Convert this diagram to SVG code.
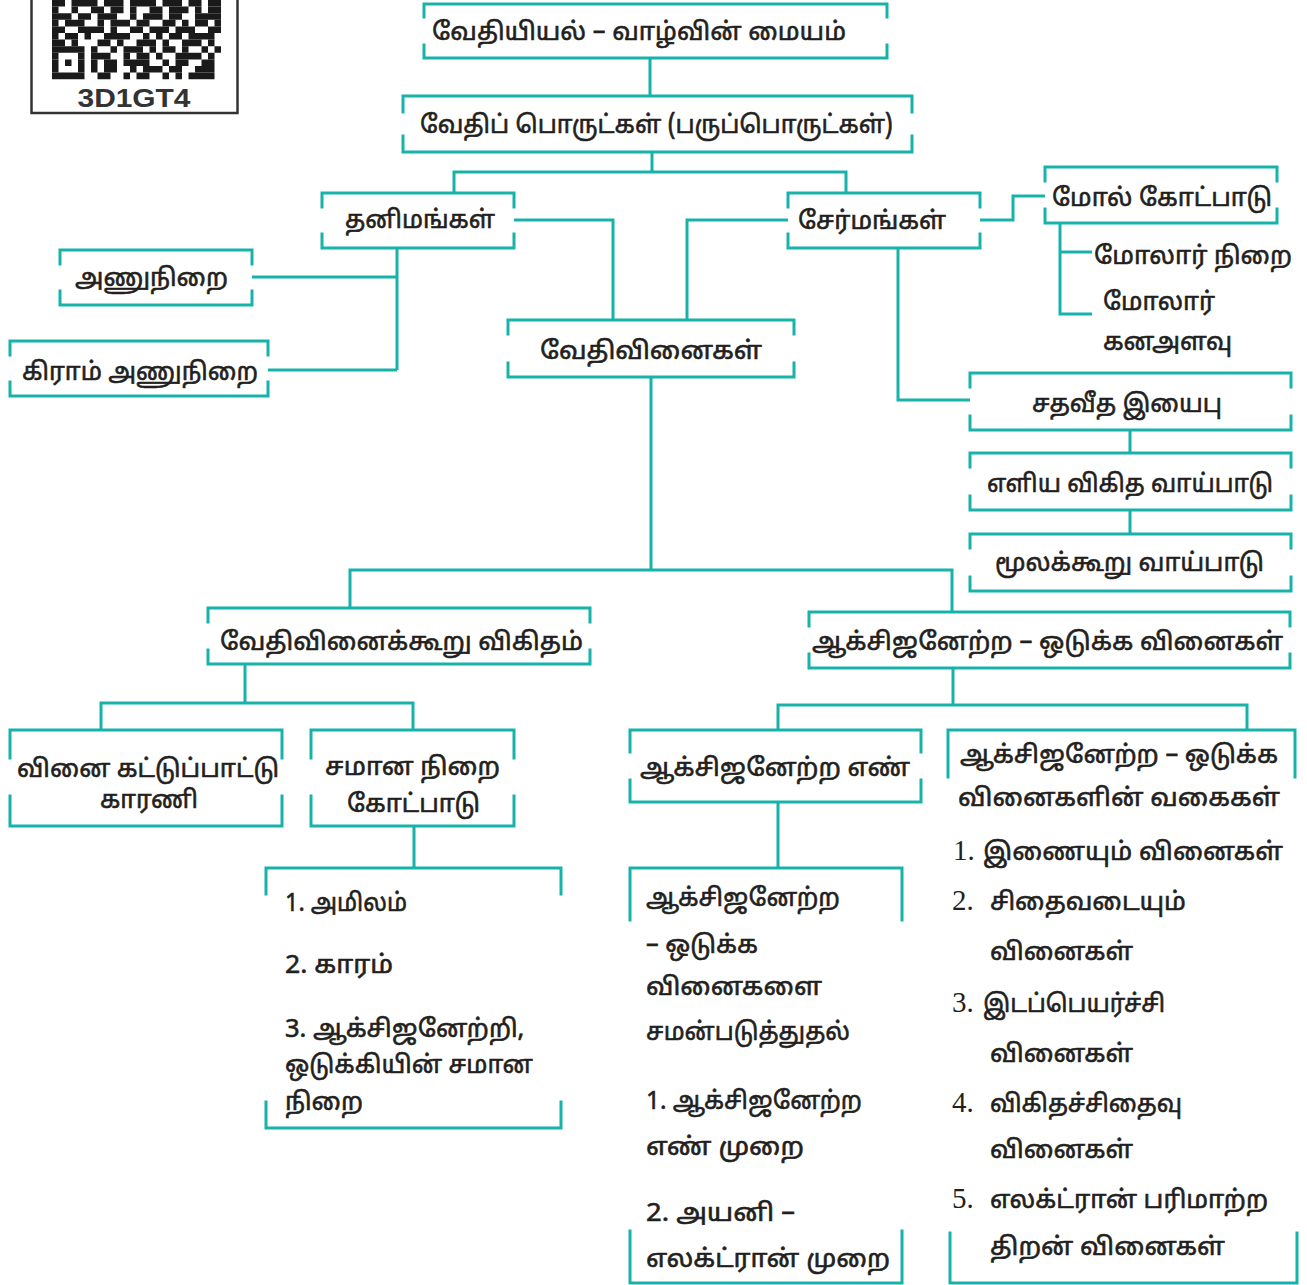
<svg xmlns="http://www.w3.org/2000/svg" width="1307" height="1285" viewBox="0 0 1307 1285">
<style>
.bx{fill:none;stroke:#17b3aa;stroke-width:3;stroke-linecap:square}
.cn{fill:none;stroke:#17b3aa;stroke-width:3}
.t{font-family:"Noto Sans Tamil","Lohit Tamil","Noto Sans",sans-serif;font-size:25px;fill:#231f20;stroke:#231f20;stroke-width:0.6}
.n{font-family:"Liberation Serif",serif;font-size:29px;fill:#231f20}
.qr line{stroke:#1a1a1a;stroke-width:1}
</style>
<rect width="1307" height="1285" fill="#fff"/>
<g id="qrcode">
<rect x="31.5" y="-3" width="206" height="116" fill="#fff" stroke="#333" stroke-width="2.5"/>
<g class="qr" transform="translate(52,0) scale(6.5,6.6)">
<line x1="0" x2="26" y1="0.5" y2="0.5" stroke-dasharray="2 1 4 1 3 1 4 1 3 1 2 1 2 0"/>
<line x1="0" x2="26" y1="1.5" y2="1.5" stroke-dasharray="1 2 1 2 2 1 2 1 1 2 2 1 3 1 1 1 2 0"/>
<line x1="0" x2="26" y1="2.5" y2="2.5" stroke-dasharray="3 1 2 1 3 2 1 1 3 1 2 2 4 0"/>
<line x1="0" x2="26" y1="3.5" y2="3.5" stroke-dasharray="1 1 3 2 1 1 3 1 2 2 2 1 1 1 2 1 1 0"/>
<line x1="0" x2="26" y1="4.5" y2="4.5" stroke-dasharray="2 2 4 1 1 2 2 1 3 1 3 2 2 0"/>
<line x1="0" x2="26" y1="5.5" y2="5.5" stroke-dasharray="1 1 2 1 1 2 4 2 1 1 1 1 2 1 4 1"/>
<line x1="0" x2="26" y1="6.5" y2="6.5" stroke-dasharray="2 1 1 3 2 1 1 2 3 1 1 2 3 1 1 2"/>
<line x1="0" x2="26" y1="7.5" y2="7.5" stroke-dasharray="5 1 1 2 1 1 3 1 1 1 2 1 1 2 1 1 1 0"/>
<line x1="0" x2="26" y1="8.5" y2="8.5" stroke-dasharray="1 3 1 1 3 2 1 1 2 1 1 2 4 1 1 1"/>
<line x1="0" x2="26" y1="9.5" y2="9.5" stroke-dasharray="1 1 1 1 1 1 1 1 2 1 4 2 1 1 2 2 2 1"/>
<line x1="0" x2="26" y1="10.5" y2="10.5" stroke-dasharray="1 3 1 1 1 1 2 2 1 1 3 1 2 2 3 1"/>
<line x1="0" x2="26" y1="11.5" y2="11.5" stroke-dasharray="5 2 2 2 1 1 2 2 1 1 1 1 4 1"/>
</g>
<text x="134" y="107" text-anchor="middle" font-family="Liberation Sans" font-weight="bold" font-size="25" textLength="113" lengthAdjust="spacingAndGlyphs" fill="#333">3D1GT4</text>
</g>

<g id="connectors" class="cn">
<path d="M650 58V96"/>
<path d="M652 152V172M454 192V172H846V192"/>
<path d="M514 220H613V320"/>
<path d="M788 220H687V320"/>
<path d="M397 248V370M252 277H397M268 370H397"/>
<path d="M980 220H1013V196H1045"/>
<path d="M1060 223V314H1092M1060 252H1092"/>
<path d="M898 248V400H970"/>
<path d="M1130 430V453M1130 510V534"/>
<path d="M651 377V570M350 608V570H952V612"/>
<path d="M245 664V703M101 730V703H413V730"/>
<path d="M414 826V868"/>
<path d="M953 668V705M778 730V705H1247V730"/>
<path d="M778 802V868"/>
</g>

<g id="n-vethiyiyal">
<path class="bx" d="M424 17V4H887V17M424 45V58H887V45"/>
<text class="t" x="432" y="40" textLength="414" lengthAdjust="spacingAndGlyphs">வேதியியல் – வாழ்வின் மையம்</text>
</g>
<g id="n-porutkal">
<path class="bx" d="M403 112V96H912V112M403 136V152H912V136"/>
<text class="t" x="420" y="133" textLength="473" lengthAdjust="spacingAndGlyphs">வேதிப் பொருட்கள் (பருப்பொருட்கள்)</text>
</g>
<g id="n-thanimangal">
<path class="bx" d="M322 207V193H514V207M322 234V248H514V234"/>
<text class="t" x="345" y="228" textLength="150" lengthAdjust="spacingAndGlyphs">தனிமங்கள்</text>
</g>
<g id="n-sermangal">
<path class="bx" d="M788 207V193H980V207M788 234V248H980V234"/>
<text class="t" x="798" y="229" textLength="148" lengthAdjust="spacingAndGlyphs">சேர்மங்கள்</text>
</g>
<g id="n-vethivinaigal">
<path class="bx" d="M508 334V320H794V334M508 363V377H794V363"/>
<text class="t" x="540" y="359" textLength="222" lengthAdjust="spacingAndGlyphs">வேதிவினைகள்</text>
</g>
<g id="n-anunirai">
<path class="bx" d="M60 264V250H252V264M60 291V305H252V291"/>
<text class="t" x="75" y="286" textLength="153" lengthAdjust="spacingAndGlyphs">அணுநிறை</text>
</g>
<g id="n-giram">
<path class="bx" d="M10 355V341H268V355M10 382V396H268V382"/>
<text class="t" x="22" y="380" textLength="236" lengthAdjust="spacingAndGlyphs">கிராம் அணுநிறை</text>
</g>
<g id="n-mole">
<path class="bx" d="M1045 181V167H1277V181M1045 209V223H1277V209"/>
<text class="t" x="1052" y="206" textLength="220" lengthAdjust="spacingAndGlyphs">மோல் கோட்பாடு</text>
</g>
<g id="n-molar">
<text class="t" x="1094" y="264" textLength="198" lengthAdjust="spacingAndGlyphs">மோலார் நிறை</text>
<text class="t" x="1103" y="310" textLength="112" lengthAdjust="spacingAndGlyphs">மோலார்</text>
<text class="t" x="1103" y="350" textLength="129" lengthAdjust="spacingAndGlyphs">கனஅளவு</text>
</g>
<g id="n-sathaveetham">
<path class="bx" d="M970 387V373H1291V387M970 416V430H1291V416"/>
<text class="t" x="1032" y="412" textLength="190" lengthAdjust="spacingAndGlyphs">சதவீத இயைபு</text>
</g>
<g id="n-eliya">
<path class="bx" d="M970 467V453H1291V467M970 496V510H1291V496"/>
<text class="t" x="987" y="492" textLength="286" lengthAdjust="spacingAndGlyphs">எளிய விகித வாய்பாடு</text>
</g>
<g id="n-moolakkooru">
<path class="bx" d="M970 548V534H1291V548M970 577V591H1291V577"/>
<text class="t" x="995" y="571" textLength="269" lengthAdjust="spacingAndGlyphs">மூலக்கூறு வாய்பாடு</text>
</g>
<g id="n-vigitham">
<path class="bx" d="M208 622V608H590V622M208 650V664H590V650"/>
<text class="t" x="220" y="650" textLength="363" lengthAdjust="spacingAndGlyphs">வேதிவினைக்கூறு விகிதம்</text>
</g>
<g id="n-redox">
<path class="bx" d="M809 626V612H1290V626M809 654V668H1290V654"/>
<text class="t" x="812" y="650" textLength="471" lengthAdjust="spacingAndGlyphs">ஆக்சிஜனேற்ற – ஒடுக்க வினைகள்</text>
</g>
<g id="n-kattuppattu">
<path class="bx" d="M10 758V730H282V758M10 796V826H282V796"/>
<text class="t" x="17" y="777" textLength="262" lengthAdjust="spacingAndGlyphs">வினை கட்டுப்பாட்டு</text>
<text class="t" x="100" y="808" textLength="98" lengthAdjust="spacingAndGlyphs">காரணி</text>
</g>
<g id="n-samana">
<path class="bx" d="M311 758V730H514V758M311 796V826H514V796"/>
<text class="t" x="325" y="775" textLength="175" lengthAdjust="spacingAndGlyphs">சமான நிறை</text>
<text class="t" x="347" y="812" textLength="133" lengthAdjust="spacingAndGlyphs">கோட்பாடு</text>
</g>
<g id="n-samana-list">
<path class="bx" d="M266 894V868H561V894M266 1102V1128H561V1102"/>
<text class="t" x="285" y="911" textLength="122" lengthAdjust="spacingAndGlyphs">1. அமிலம்</text>
<text class="t" x="285" y="973" textLength="108" lengthAdjust="spacingAndGlyphs">2. காரம்</text>
<text class="t" x="285" y="1037" textLength="239" lengthAdjust="spacingAndGlyphs">3. ஆக்சிஜனேற்றி,</text>
<text class="t" x="285" y="1073" textLength="248" lengthAdjust="spacingAndGlyphs">ஒடுக்கியின் சமான</text>
<text class="t" x="285" y="1110" textLength="78" lengthAdjust="spacingAndGlyphs">நிறை</text>
</g>
<g id="n-oxnum">
<path class="bx" d="M630 752V730H921V752M630 780V802H921V780"/>
<text class="t" x="640" y="776" textLength="270" lengthAdjust="spacingAndGlyphs">ஆக்சிஜனேற்ற எண்</text>
</g>
<g id="n-balancing">
<path class="bx" d="M630 920V868H902V920M630 1231V1283H902V1231"/>
<text class="t" x="646" y="906" textLength="194" lengthAdjust="spacingAndGlyphs">ஆக்சிஜனேற்ற</text>
<text class="t" x="646" y="953" textLength="112" lengthAdjust="spacingAndGlyphs">– ஒடுக்க</text>
<text class="t" x="646" y="995" textLength="176" lengthAdjust="spacingAndGlyphs">வினைகளை</text>
<text class="t" x="646" y="1040" textLength="204" lengthAdjust="spacingAndGlyphs">சமன்படுத்துதல்</text>
<text class="t" x="646" y="1109" textLength="216" lengthAdjust="spacingAndGlyphs">1. ஆக்சிஜனேற்ற</text>
<text class="t" x="646" y="1155" textLength="158" lengthAdjust="spacingAndGlyphs">எண் முறை</text>
<text class="t" x="646" y="1221" textLength="149" lengthAdjust="spacingAndGlyphs">2. அயனி –</text>
<text class="t" x="646" y="1267" textLength="244" lengthAdjust="spacingAndGlyphs">எலக்ட்ரான் முறை</text>
</g>
<g id="n-types">
<path class="bx" d="M948 777V730H1295V777M950 1233V1283H1297V1233"/>
<text class="t" x="960" y="763" textLength="318" lengthAdjust="spacingAndGlyphs">ஆக்சிஜனேற்ற – ஒடுக்க</text>
<text class="t" x="958" y="806" textLength="322" lengthAdjust="spacingAndGlyphs">வினைகளின் வகைகள்</text>
<text class="n" x="953" y="860">1.</text>
<text class="t" x="983" y="860" textLength="300" lengthAdjust="spacingAndGlyphs">இணையும் வினைகள்</text>
<text class="n" x="952" y="910">2.</text>
<text class="t" x="990" y="910" textLength="196" lengthAdjust="spacingAndGlyphs">சிதைவடையும்</text>
<text class="t" x="990" y="960" textLength="143" lengthAdjust="spacingAndGlyphs">வினைகள்</text>
<text class="n" x="952" y="1012">3.</text>
<text class="t" x="983" y="1012" textLength="182" lengthAdjust="spacingAndGlyphs">இடப்பெயர்ச்சி</text>
<text class="t" x="990" y="1062" textLength="143" lengthAdjust="spacingAndGlyphs">வினைகள்</text>
<text class="n" x="952" y="1112">4.</text>
<text class="t" x="990" y="1112" textLength="192" lengthAdjust="spacingAndGlyphs">விகிதச்சிதைவு</text>
<text class="t" x="990" y="1158" textLength="143" lengthAdjust="spacingAndGlyphs">வினைகள்</text>
<text class="n" x="952" y="1208">5.</text>
<text class="t" x="990" y="1208" textLength="278" lengthAdjust="spacingAndGlyphs">எலக்ட்ரான் பரிமாற்ற</text>
<text class="t" x="990" y="1255" textLength="235" lengthAdjust="spacingAndGlyphs">திறன் வினைகள்</text>
</g>
</svg>
